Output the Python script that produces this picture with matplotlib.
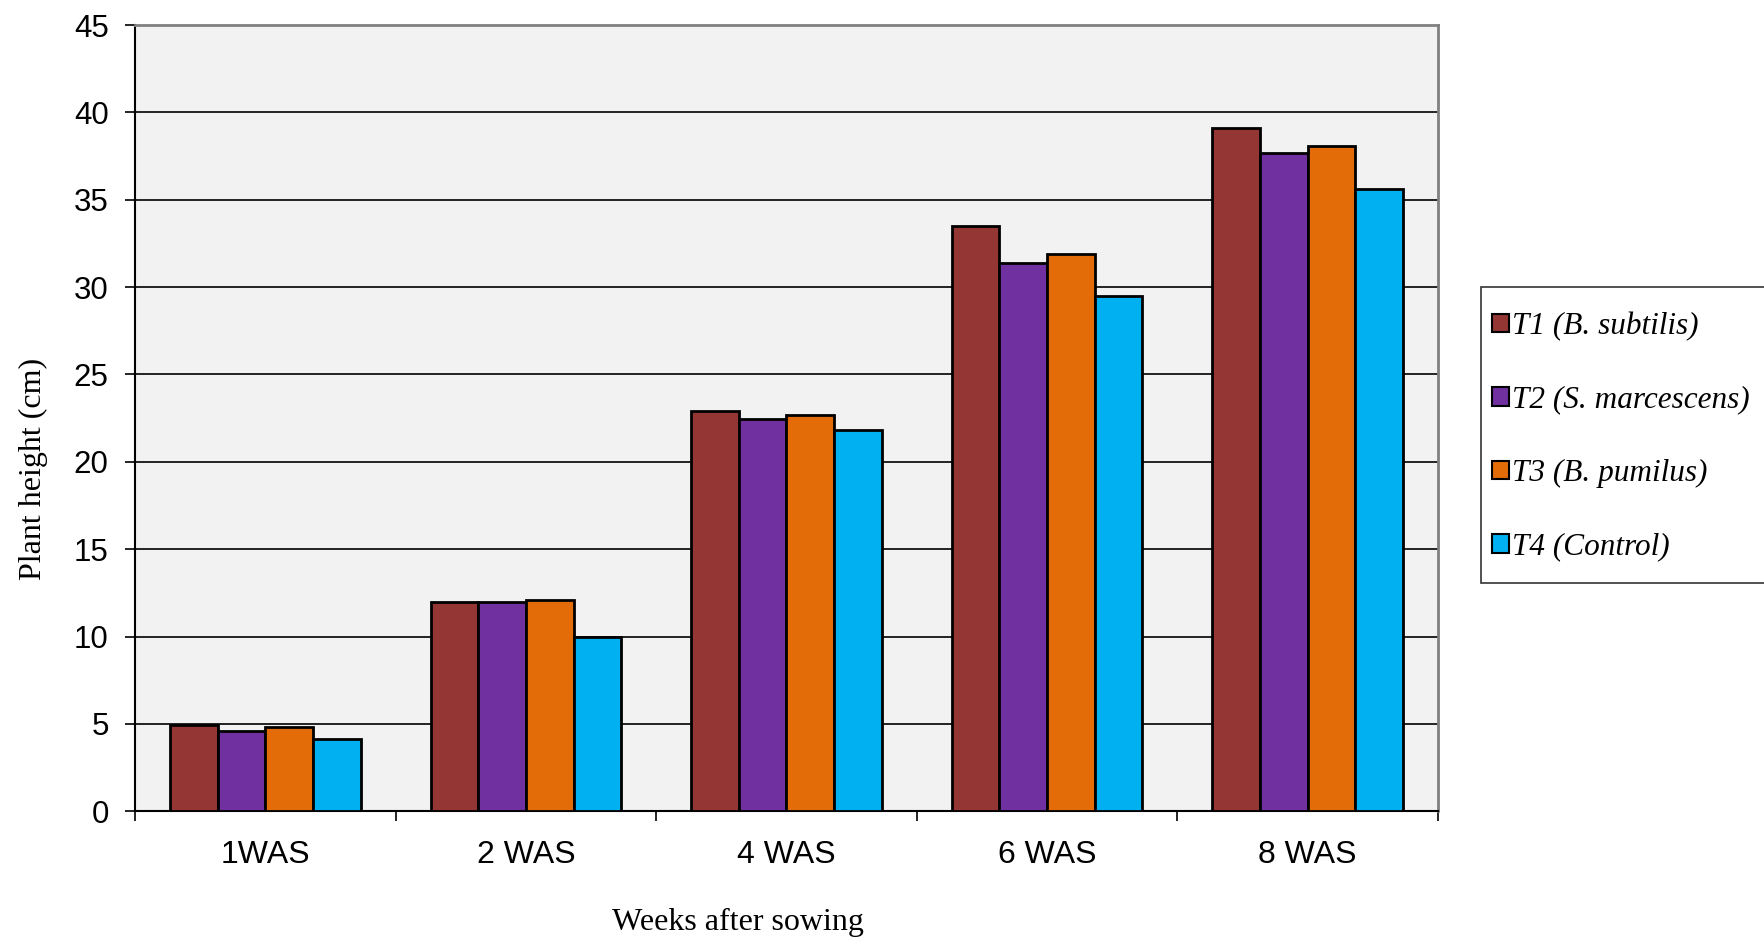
import numpy as np
import matplotlib.pyplot as plt
from matplotlib.patches import Rectangle
from matplotlib.ticker import FixedLocator, NullFormatter

weeks = ["1WAS", "2 WAS", "4 WAS", "6 WAS", "8 WAS"]
treatments = ["T1 (B. subtilis)", "T2 (S. marcescens)", "T3 (B. pumilus)", "T4 (Control)"]
t1 = [4.95, 12.0, 22.9, 33.5, 39.1]
t2 = [4.6, 12.0, 22.45, 31.4, 37.7]
t3 = [4.8, 12.1, 22.7, 31.9, 38.1]
t4 = [4.15, 10.0, 21.8, 29.5, 35.6]
colors = ["#943634", "#7030A0", "#E36C09", "#00B0F0"]

W, H = 1765, 941
fig = plt.figure(figsize=(W / 100, H / 100), dpi=100)
ax = fig.add_axes([0.0765, 0.1378, 0.7382, 0.8356])
ax.set_facecolor("#F2F2F2")

x = np.arange(len(weeks))
w = 0.183
for i, (vals, c, lab) in enumerate(zip([t1, t2, t3, t4], colors, treatments)):
    ax.bar(x + (i - 1.5) * w, vals, w, color=c, edgecolor="black", linewidth=2,
           label=lab, zorder=3)

ax.set_xlim(-0.5, len(weeks) - 0.5)
ax.set_ylim(0, 45)
ax.set_yticks(range(0, 46, 5))
ax.yaxis.grid(True, color="black", linewidth=1.2, zorder=0)
ax.set_axisbelow(True)

# category labels at centres, tick marks on the group boundaries
ax.set_xticks(x)
ax.set_xticklabels(weeks)
ax.tick_params(axis="x", which="major", length=0, pad=21, labelsize=23)
ax.xaxis.set_minor_locator(FixedLocator(np.arange(-0.5, len(weeks), 1)))
ax.xaxis.set_minor_formatter(NullFormatter())
ax.tick_params(axis="x", which="minor", length=7.5, width=1.2, direction="out")
ax.tick_params(axis="y", length=7, width=1.2, labelsize=22.5, pad=12)
for lbl in ax.get_xticklabels() + ax.get_yticklabels():
    lbl.set_family("Liberation Sans")

for s in ["left", "bottom"]:
    ax.spines[s].set_color("black")
    ax.spines[s].set_linewidth(1.5)
for s in ["top", "right"]:
    ax.spines[s].set_color("#808080")
    ax.spines[s].set_linewidth(2)

ax.set_ylabel("Plant height (cm)", family="Liberation Serif", fontsize=23)
ax.yaxis.set_label_coords(-0.067, 0.435)
xl = ax.set_xlabel("Weeks after sowing", family="Liberation Serif", fontsize=23)
ax.xaxis.set_label_coords(0.4626, -0.151)
xl.set_verticalalignment("baseline")

# legend box runs off the right edge of the figure
fig.patches.append(Rectangle((1481 / W, 1 - 583 / H), 0.2, (583 - 287) / H,
                             transform=fig.transFigure, facecolor="white",
                             edgecolor="#333333", linewidth=1.2, zorder=1))
leg = fig.legend(loc="upper left", bbox_to_anchor=(1492 / W, 1 - 312 / H),
                 prop={"family": "Liberation Serif", "style": "italic", "size": 22.5},
                 frameon=False, handlelength=0.53, handleheight=0.53,
                 handletextpad=0.12, labelspacing=1.42, borderpad=0,
                 borderaxespad=0)
leg.set_zorder(2)
for hnd in leg.legend_handles:
    hnd.set_linewidth(1.5)

fig.savefig("out.png", dpi=100)
